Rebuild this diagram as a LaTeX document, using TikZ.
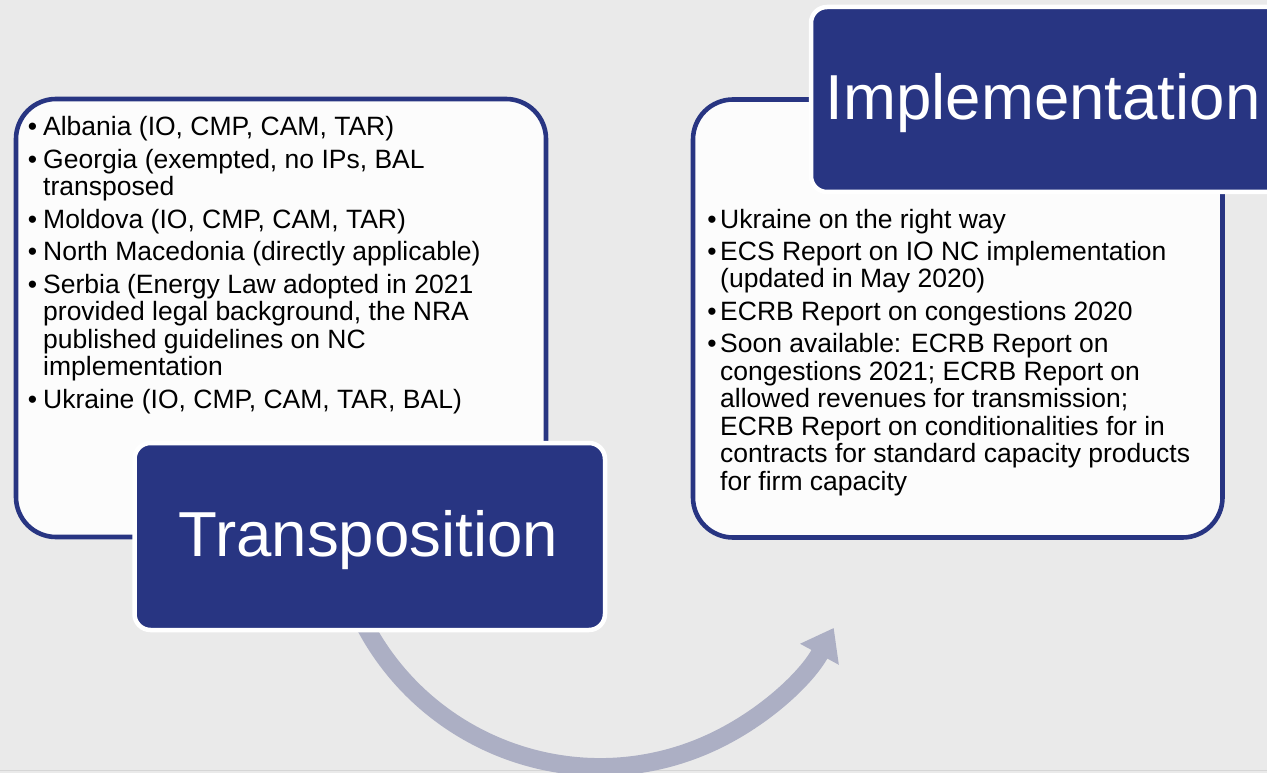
\documentclass[tikz,border=0pt]{standalone}
\usepackage{fontspec}
\setmainfont{Liberation Sans}
\usetikzlibrary{arrows.meta}
\definecolor{navy}{RGB}{40,53,130}
\definecolor{bgc}{RGB}{234,234,234}
\definecolor{arrowc}{RGB}{172,175,196}
\definecolor{boxfill}{RGB}{252,252,252}
\definecolor{rulec}{RGB}{214,214,214}
\newcommand{\bul}[1]{\llap{\textbullet\hspace{#1}}}
\begin{document}
\begin{tikzpicture}[x=1pt,y=-1pt,
  txt/.style={anchor=base west, inner sep=0pt, font=\fontsize{26.5pt}{27.5pt}\selectfont, text=black},
  outlinebox/.style={draw=navy, line width=4.6pt, fill=boxfill, rounded corners=40pt, anchor=north west, inner sep=0pt, outer sep=0pt},
  headbox/.style={draw=white, line width=4.5pt, fill=navy, rounded corners=16pt, anchor=north west, inner sep=0pt, outer sep=0pt},
  headtxt/.style={inner sep=0pt, text=white, font=\fontsize{63.6pt}{63.6pt}\selectfont},
]
\fill[bgc] (0,0) rectangle (1267,773);
\useasboundingbox (0,0) rectangle (1267,773);
\draw[rulec, line width=1.5pt] (0,770.5) -- (1267,770.5);

% curved arrow
\coordinate (arcc) at (600,501);
\draw[arrowc, line width=18pt, -{Triangle[width=42pt,length=30pt]}]
  (arcc) ++(155:266) coordinate (arrowstart) arc[start angle=155, end angle=28.5, radius=266] coordinate (arrowend);

% outline boxes
\node[outlinebox, minimum width=530pt, minimum height=438pt] (leftbox) at (16,99) {};
\node[outlinebox, minimum width=529.5pt, minimum height=438pt] (rightbox) at (693,99.5) {};

% left text
\node[txt] (l1) at (43,136) {\bul{6pt}Albania (IO, CMP, CAM, TAR)};
\node[txt] (l2) at (43,168.4) {\bul{6pt}Georgia (exempted, no IPs, BAL};
\node[txt] (l3) at (43,195.9) {transposed};
\node[txt] (l4) at (43,228.3) {\bul{6pt}Moldova (IO, CMP, CAM, TAR)};
\node[txt] (l5) at (43,260.7) {\bul{6pt}North Macedonia (directly applicable)};
\node[txt] (l6) at (43,293.1) {\bul{6pt}Serbia (Energy Law adopted in 2021};
\node[txt] (l7) at (43,320.6) {provided legal background, the NRA};
\node[txt] (l8) at (43,348.1) {published guidelines on NC};
\node[txt] (l9) at (43,375.6) {implementation};
\node[txt] (l10) at (43,408) {\bul{6pt}Ukraine (IO, CMP, CAM, TAR, BAL)};

% right text
\node[txt] (r1) at (720,228) {\bul{3.5pt}Ukraine on the right way};
\node[txt] (r2) at (720,260.4) {\bul{3.5pt}ECS Report on IO NC implementation};
\node[txt] (r3) at (720,287.9) {(updated in May 2020)};
\node[txt] (r4) at (720,320.3) {\bul{3.5pt}ECRB Report on congestions 2020};
\node[txt] (r5) at (720,352.7) {\bul{3.5pt}Soon available: ECRB Report on};
\node[txt] (r6) at (720,380.2) {congestions 2021; ECRB Report on};
\node[txt] (r7) at (720,407.7) {allowed revenues for transmission;};
\node[txt] (r8) at (720,435.2) {ECRB Report on conditionalities for in};
\node[txt] (r9) at (720,462.7) {contracts for standard capacity products};
\node[txt] (r10) at (720,490.2) {for firm capacity};

% header boxes
\node[headbox, minimum width=470.5pt, minimum height=187pt] (transbox) at (134.5,443) {};
\node[headtxt, anchor=base] (transtxt) at (368.5,556) {Transposition};
\node[headbox, minimum width=489pt, minimum height=185pt] (implbox) at (811,7) {};
\node[headtxt, anchor=base west] (impltxt) at (825.5,120) {Implementation};
\end{tikzpicture}
\end{document}
